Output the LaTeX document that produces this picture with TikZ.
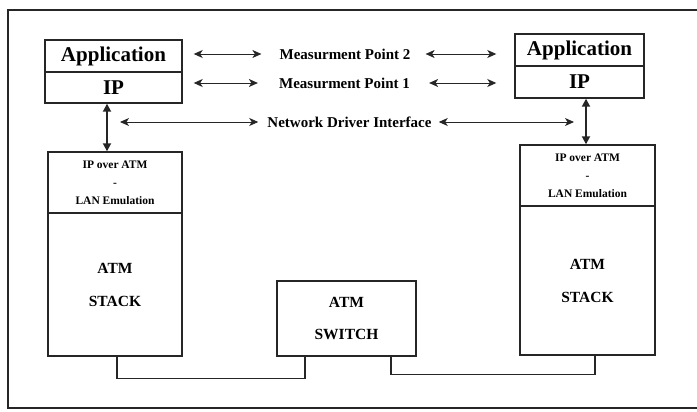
\documentclass[tikz,border=0pt]{standalone}
\usepackage{fontspec}
\setmainfont{Liberation Serif}
\usetikzlibrary{arrows.meta,calc}

\begin{document}
\begin{tikzpicture}
% ATM measurement setup, drawn on a pixel grid
\def\pxsz{1pt}
\providecommand{\atmLineColor}{black!85}
\providecommand{\atmBoxLineWidth}{1.4pt}
\providecommand{\atmArrowLineWidth}{0.9pt}
\providecommand{\atmShaftLineWidth}{1.8pt}
\tikzset{
  layerbox/.style={draw=\atmLineColor, line width=\atmBoxLineWidth, inner sep=0pt,
    font=\bfseries\fontsize{21}{22}\selectfont},
  lanbox/.style={layerbox, align=center, font=\bfseries\fontsize{11.5}{18}\selectfont},
  stackbox/.style={layerbox, align=center, font=\bfseries\fontsize{15.5}{33}\selectfont},
  measlbl/.style={inner sep=2pt, font=\bfseries\fontsize{15}{17}\selectfont},
  measarrow/.style={draw=\atmLineColor, line width=\atmArrowLineWidth,
    {Stealth[length=9pt,width=8pt,inset=2.5pt]}-{Stealth[length=9pt,width=8pt,inset=2.5pt]}},
  shaft/.style={draw=\atmLineColor, line width=\atmShaftLineWidth,
    {Triangle[length=8pt,width=8pt]}-{Triangle[length=8pt,width=8pt]}},
  link/.style={draw=\atmLineColor, line width=1.3pt}
}
\begin{scope}[x=\pxsz, y=-\pxsz, line join=miter]
  \useasboundingbox (0,0) rectangle (697,412);
  % Outer frame (open on the right)
  \draw[line width=1.6pt, draw=\atmLineColor] (697,10) -- (8,10) -- (8,408) -- (697,408);
  % Left host
  \node[layerbox, minimum width=137, minimum height=32] (lapp) at (113.5,56) {Application};
  \node[layerbox, minimum width=137, minimum height=31] (lip) at (113.5,87.5) {IP};
  \node[lanbox, minimum width=134, minimum height=61] (llan) at (115,182.5) {IP over ATM\\-\\LAN Emulation};
  \node[stackbox, minimum width=134, minimum height=143] (lstk) at (115,284.5) {ATM\\STACK};
  % Right host
  \node[layerbox, minimum width=129, minimum height=32] (rapp) at (579.5,50) {Application};
  \node[layerbox, minimum width=129, minimum height=32] (rip) at (579.5,82) {IP};
  \node[lanbox, minimum width=135, minimum height=61] (rlan) at (587.5,175.5) {IP over ATM\\-\\LAN Emulation};
  \node[stackbox, minimum width=135, minimum height=149] (rstk) at (587.5,280.5) {ATM\\STACK};
  % Switch
  \node[stackbox, minimum width=139, minimum height=75, font=\bfseries\fontsize{15.5}{32}\selectfont] (sw) at (346.5,318.5) {ATM\\SWITCH};
  % Measurement labels
  \node[measlbl] (mp2) at (345,54) {Measurment Point 2};
  \node[measlbl] (mp1) at (344.5,83) {Measurment Point 1};
  \node[measlbl] (ndi) at (349.5,122) {Network Driver Interface};
  % Horizontal arrows
  \draw[measarrow] ($(lapp.east |- mp2)+(11,0)$) -- ($(mp2.west)+(-16,0)$);
  \draw[measarrow] ($(mp2.east)+(13,0)$) -- ($(rapp.west |- mp2)+(-18,0)$);
  \draw[measarrow] ($(lapp.east |- mp1)+(11,0)$) -- ($(mp1.west)+(-19,0)$);
  \draw[measarrow] ($(mp1.east)+(17,0)$) -- ($(rapp.west |- mp1)+(-18,0)$);
  \draw[measarrow] ($(lip.south |- ndi)+(6.5,0)$) -- ($(ndi.west)+(-7,0)$);
  \draw[measarrow] ($(ndi.east)+(5,0)$) -- ($(rip.south |- ndi)+(-5.5,0)$);
  % Vertical shafts
  \draw[shaft] ($(lip.south)+(-6.5,0)$) -- ($(lip.south |- llan.north)+(-6.5,0)$);
  \draw[shaft] ($(rip.south)+(6.5,0)$) -- ($(rip.south |- rlan.north)+(6.5,0)$);
  % Cabling to the switch
  \draw[link] ($(lstk.south)+(2,0)$) -- ++(0,22) -| ($(sw.south)+(-41.5,0)$);
  \draw[link] ($(sw.south)+(44.5,0)$) -- ++(0,18) -| ($(rstk.south)+(7.5,0)$);
\end{scope}
\end{tikzpicture}
\end{document}
